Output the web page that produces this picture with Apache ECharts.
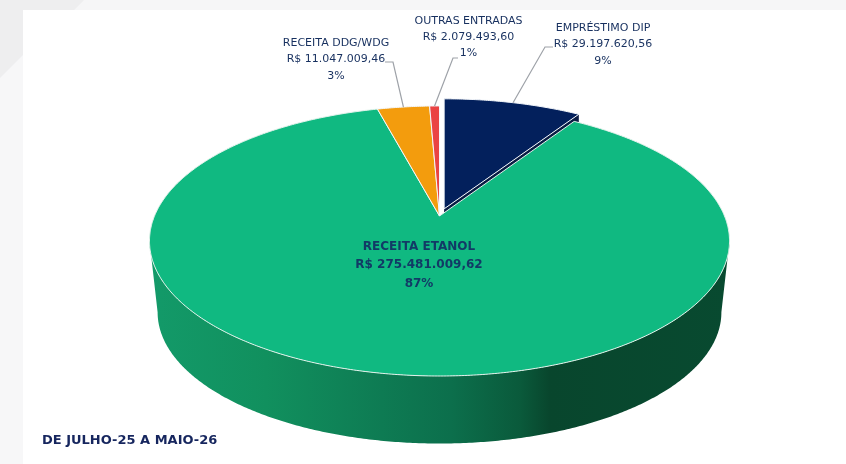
<!DOCTYPE html>
<html lang="pt-BR">
<head>
<meta charset="utf-8">
<title>Entradas de julho-25 a maio-26</title>
<style>
  html, body { margin: 0; padding: 0; background: #ffffff; }
  #chart { width: 846px; height: 464px; }
</style>
<script src="https://cdn.jsdelivr.net/npm/echarts@6/dist/echarts.min.js"></script>
</head>
<body>
<div id="chart"></div>
<script>
// Sources of cash, clockwise from twelve o'clock
const categories = ['EMPRÉSTIMO DIP', 'RECEITA ETANOL', 'RECEITA DDG/WDG', 'OUTRAS ENTRADAS'];
const amounts = [29197620.56, 275481009.62, 11047009.46, 2079493.60];
const periodLabel = 'DE JULHO-25 A MAIO-26';

// Slice colours and label placement
const sliceColors = ['#03205c', '#10b981', '#f39c0d', '#ea4343'];
const explodePx = [8.5, 0, 0, 0];
const labelCenters = [[603, 44.5], [419, 265], [336, 59.5], [468.5, 37]];
const leaderElbows = [[[545, 47], [553, 47]], null, [[393, 62], [385, 62]], [[453, 58], [458, 58]]];

// Tilted-disc projection: the apex sits above the ellipse centre, as in a perspective view
const apex = { x: 439.5, y: 216 };
const disc = { rx: 285, a: 130.4, k: 0.185 };
const wall = { dy: 72, scale: 0.972 };
const textColor = '#17305f';
const labelFont = '"DejaVu Sans", Inter, sans-serif';
const sideStops = [
  { offset: 0, color: '#139a69' },
  { offset: 0.2, color: '#11905e' },
  { offset: 0.4, color: '#0e7b53' },
  { offset: 0.52, color: '#0c6f4c' },
  { offset: 0.64, color: '#0a5a3b' },
  { offset: 0.69, color: '#08462d' },
  { offset: 1, color: '#084a30' }
];

const total = amounts.reduce((s, v) => s + v, 0);
const rad = d => d * Math.PI / 180;

// Point on the rim for a clockwise angle in degrees from the top of the disc
function project(deg, r = 1) {
  const u = Math.sin(rad(deg)) * r, v = Math.cos(rad(deg)) * r;
  const w = 1 + disc.k * v;
  return [apex.x + disc.rx * u / w, apex.y - disc.a * v / w];
}
function arc(from, to, r) {
  const n = Math.max(2, Math.ceil(Math.abs(to - from) / 0.5));
  const pts = [];
  for (let i = 0; i <= n; i++) pts.push(project(from + (to - from) * i / n, r));
  return pts;
}
const shift = (pts, dx, dy) => pts.map(p => [p[0] + dx, p[1] + dy]);

function sweepOf(index) {
  let start = 0;
  for (let i = 0; i < index; i++) start += amounts[i] / total * 360;
  return [start, start + amounts[index] / total * 360];
}
const money = v => 'R$ ' + v.toLocaleString('pt-BR', { minimumFractionDigits: 2, maximumFractionDigits: 2 });

function renderSlice(params, api) {
  const i = params.dataIndex;
  const value = api.value(0);
  const [start, end] = sweepOf(i);
  const mid = (start + end) / 2;
  const midPt = project(mid);
  const len = Math.hypot(midPt[0] - apex.x, midPt[1] - apex.y);
  const ox = explodePx[i] * (midPt[0] - apex.x) / len;
  const oy = explodePx[i] * (midPt[1] - apex.y) / len;
  const children = [];

  const rim = arc(start, end);
  const top = shift([[apex.x, apex.y]].concat(rim), ox, oy);

  // Side wall of the large slice, from tangent point to tangent point through the front
  if (i === 1) {
    const tangent = Math.acos(-disc.k) * 180 / Math.PI;
    const upper = arc(tangent, 360 - tangent);
    const lower = arc(360 - tangent, tangent).map(p => [
      apex.x + (p[0] - apex.x) * wall.scale,
      apex.y + (p[1] - apex.y) * wall.scale + wall.dy
    ]);
    children.push({
      type: 'polygon', z2: 2, shape: { points: upper.concat(lower) },
      style: { fill: new echarts.graphic.LinearGradient(150, 0, 729, 0, sideStops, true) }
    });
  }
  // Cut face of the pulled-out slice, left showing through the gap
  if (explodePx[i] > 0) {
    const last = rim[rim.length - 1];
    children.push({
      type: 'polygon', z2: 1,
      shape: { points: shift([[apex.x, apex.y], last, [last[0], last[1] + 12], [apex.x, apex.y + 12]], ox, oy) },
      style: { fill: '#0a1c44' }
    });
  }
  children.push({
    type: 'polygon', z2: 5, shape: { points: top },
    style: { fill: sliceColors[i], stroke: i === 1 ? '#e4f3ec' : '#f4f7fb', lineWidth: 1, lineJoin: 'miter' }
  });

  // Leader line from the rim to the label
  if (leaderElbows[i]) {
    const from = [midPt[0] + ox, midPt[1] + oy];
    children.push({
      type: 'polyline', z2: 8, shape: { points: [from].concat(leaderElbows[i]) },
      style: { stroke: '#9ea2a8', lineWidth: 1.2, fill: null }
    });
  }
  const big = i === 1;
  const share = Math.round(value / total * 100) + '%';
  children.push({
    type: 'text', z2: 10,
    x: labelCenters[i][0], y: labelCenters[i][1],
    style: {
      text: categories[i] + '\n' + money(value) + '\n' + share,
      fill: big ? '#123a66' : textColor,
      font: (big ? '700 12px ' : '400 11px ') + labelFont,
      lineHeight: big ? 18.5 : 16.3,
      align: 'center', verticalAlign: 'middle'
    }
  });
  return { type: 'group', children };
}

const chart = echarts.init(document.getElementById('chart'), null, { renderer: 'canvas' });
chart.setOption({
  animation: false,
  backgroundColor: '#ffffff',
  title: {
    text: periodLabel, left: 42, top: 434, padding: 0,
    textStyle: { color: '#16265e', fontSize: 13, fontWeight: 700, fontFamily: labelFont }
  },
  // Page frame behind the white panel
  graphic: [
    { type: 'rect', z: -10, shape: { x: 0, y: 0, width: 846, height: 10 }, style: { fill: '#f6f6f7' } },
    { type: 'rect', z: -10, shape: { x: 0, y: 0, width: 23, height: 464 }, style: { fill: '#f7f7f8' } },
    { type: 'polygon', z: -9, shape: { points: [[0, 0], [84, 0], [74, 10], [23, 10], [23, 55], [0, 78]] }, style: { fill: '#eeeeef' } }
  ],
  series: [{
    type: 'custom',
    coordinateSystem: 'none',
    renderItem: renderSlice,
    silent: true,
    clip: false,
    data: amounts.map(v => [v])
  }]
});
</script>
</body>
</html>
